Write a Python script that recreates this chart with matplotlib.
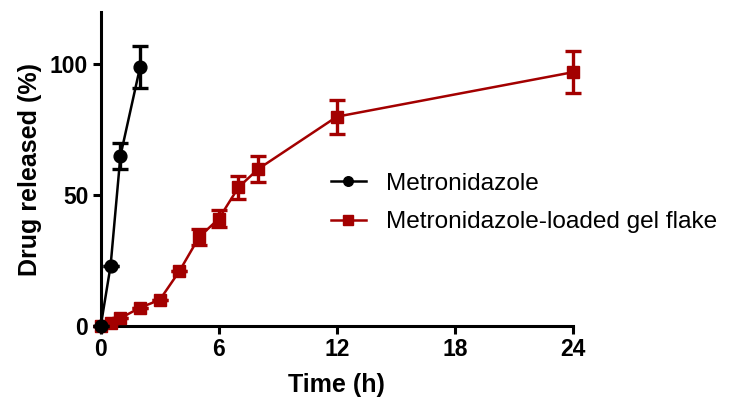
import matplotlib
matplotlib.use("Agg")
import matplotlib.pyplot as plt

plt.rcParams["font.family"] = ["Liberation Sans", "DejaVu Sans"]

# release data
t_free = [0, 0.5, 1, 2]
rel_free = [0, 23, 65, 99]
err_free = [0, 0, 5, 8]

t_gel = [0, 0.5, 1, 2, 3, 4, 5, 6, 7, 8, 12, 24]
rel_gel = [0, 1, 3, 7, 10, 21, 34, 41, 53, 60, 80, 97]
err_gel = [0, 0, 0, 0, 0, 0, 3, 3.3, 4.3, 5, 6.5, 8]

labels = ["Metronidazole", "Metronidazole-loaded gel flake"]
xticks = [0, 6, 12, 18, 24]
yticks = [0, 50, 100]

red = "#a30000"

fig = plt.figure(figsize=(7.3, 4), dpi=100)
ax = fig.add_axes([0.138, 0.185, 0.647, 0.785])

h1 = ax.errorbar(t_free, rel_free, yerr=err_free, color="black", marker="o",
                 markersize=9.2, lw=1.8, capsize=6, capthick=2.4, elinewidth=2.4,
                 clip_on=False, zorder=4)
h2 = ax.errorbar(t_gel, rel_gel, yerr=err_gel, color=red, marker="s",
                 markersize=9.3, lw=1.8, capsize=6, capthick=2.4, elinewidth=2.4,
                 clip_on=False, zorder=3)

ax.set_xlim(0, 24)
ax.set_ylim(0, 120)
ax.set_xticks(xticks)
ax.set_yticks(yticks)
for s in ["top", "right"]:
    ax.spines[s].set_visible(False)
for s in ["left", "bottom"]:
    ax.spines[s].set_linewidth(2.2)
ax.tick_params(width=2.2, length=6, labelsize=16.5, pad=3)
for lab in ax.get_xticklabels() + ax.get_yticklabels():
    lab.set_fontweight("bold")

ax.set_xlabel("Time (h)", fontsize=18, fontweight="bold", labelpad=8)
ax.set_ylabel("Drug released (%)", fontsize=18, fontweight="bold", labelpad=6)

# legend shows only line + marker, no error bars
ax.legend([h1[0], h2[0]], labels, loc="upper left", bbox_to_anchor=(0.466, 0.52),
          frameon=False, fontsize=17.6, handlelength=1.45, handletextpad=0.8,
          labelspacing=0.68, borderaxespad=0, markerscale=0.75)

fig.savefig("out.png", dpi=100)
